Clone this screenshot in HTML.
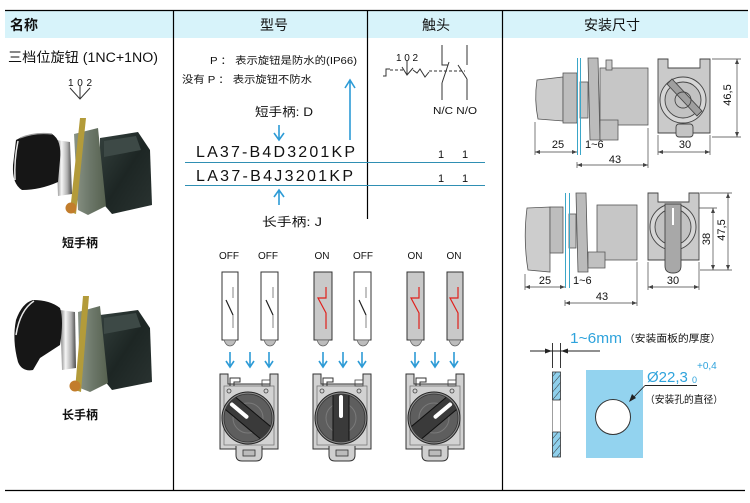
<!DOCTYPE html>
<html><head><meta charset="utf-8"><style>
html,body{margin:0;padding:0;background:#fff;}
svg{display:block;}
text{font-family:"Liberation Sans","Noto Sans CJK SC",sans-serif;fill:#111;}
</style></head><body>
<svg width="750" height="503" viewBox="0 0 750 503" xmlns="http://www.w3.org/2000/svg">
<defs>
 <linearGradient id="chrome" x1="0" y1="0" x2="1" y2="0">
  <stop offset="0" stop-color="#7a7a7a"/><stop offset="0.35" stop-color="#f6f6f6"/><stop offset="0.7" stop-color="#b0b0b0"/><stop offset="1" stop-color="#4a4a4a"/>
 </linearGradient>
 <linearGradient id="bodyg" x1="0" y1="0" x2="1" y2="1">
  <stop offset="0" stop-color="#34403d"/><stop offset="0.5" stop-color="#1d2624"/><stop offset="1" stop-color="#2a3331"/>
 </linearGradient>
 <linearGradient id="frameg" x1="0" y1="0" x2="1" y2="0">
  <stop offset="0" stop-color="#8a9486"/><stop offset="0.5" stop-color="#6c7769"/><stop offset="1" stop-color="#56614f"/>
 </linearGradient>
 <pattern id="hatch" width="5" height="5" patternUnits="userSpaceOnUse" patternTransform="rotate(40)">
  <rect width="5" height="5" fill="#8fd0ec"/><line x1="0" y1="0" x2="0" y2="5" stroke="#333" stroke-width="1"/>
 </pattern>
 <clipPath id="kc"><circle cx="0" cy="0" r="24"/></clipPath>
 <g id="sw">
  <path d="M0,0 H8 V10 H50 V0 H58 V75 H0 Z" fill="#d2d2d2" stroke="#333" stroke-width="1"/>
  <rect x="4" y="12" width="50" height="59" fill="none" stroke="#777" stroke-width="0.8"/>
  <path d="M10,12 V4 H20 V8 H14 V12" fill="none" stroke="#333" stroke-width="1"/>
  <rect x="42" y="6" width="8" height="6" fill="none" stroke="#444" stroke-width="0.8"/>
  <circle cx="46" cy="17" r="2" fill="none" stroke="#444" stroke-width="0.8"/>
  <circle cx="9" cy="17" r="2" fill="none" stroke="#444" stroke-width="0.8"/>
  <path d="M16,72 V81 Q16,87 22,87 H36 Q42,87 42,81 V72" fill="#cfcfcf" stroke="#333" stroke-width="1"/>
  <rect x="23" y="76" width="12" height="6" fill="#bbb" stroke="#333" stroke-width="0.8"/>
  <circle cx="28" cy="44" r="26" fill="#8c8c8c" stroke="#222" stroke-width="1"/>
  <circle cx="28" cy="44" r="24" fill="#5e5e5e" stroke="#333" stroke-width="0.8"/>
  <circle cx="28" cy="44" r="15" fill="none" stroke="#7a7a7a" stroke-width="1"/>
  <circle cx="28" cy="44" r="7" fill="none" stroke="#7a7a7a" stroke-width="1"/>
 </g>
</defs>

<!-- table frame -->
<rect x="5" y="11" width="743" height="27" fill="#d7f3fa"/>
<line x1="5" y1="10.5" x2="748" y2="10.5" stroke="#000" stroke-width="1.2"/>
<line x1="5" y1="490.5" x2="745" y2="490.5" stroke="#000" stroke-width="1.2"/>
<line x1="173.5" y1="10" x2="173.5" y2="491" stroke="#000" stroke-width="1.2"/>
<line x1="367.5" y1="10" x2="367.5" y2="219" stroke="#000" stroke-width="1.2"/>
<line x1="502.5" y1="10" x2="502.5" y2="490" stroke="#000" stroke-width="1.2"/>

<!-- headers -->
<text x="10" y="30" font-size="14" font-weight="bold">名称</text>
<text x="274" y="30" font-size="14" text-anchor="middle">型号</text>
<text x="436" y="30" font-size="14" text-anchor="middle">触头</text>
<text x="612" y="30" font-size="14" text-anchor="middle">安装尺寸</text>

<!-- left column -->
<text x="8" y="62" font-size="13.5" textLength="150" lengthAdjust="spacingAndGlyphs">三档位旋钮 (1NC+1NO)</text>
<text x="68" y="86" font-size="10" textLength="24" lengthAdjust="spacing">1 0 2</text>
<path d="M70,88 L80,99 L90,88 M80,86 V99" stroke="#333" stroke-width="1" fill="none"/>

<!-- photo 1 -->
<path d="M100,138 L138,132 L150,150 L152,205 L112,214 L100,200 Z" fill="url(#bodyg)"/>
<path d="M104,141 L136,136 L141,150 L104,157Z" fill="#3d4946"/>
<path d="M74,134 L98,128 L106,206 L88,215 L78,210 Z" fill="url(#frameg)"/>
<path d="M80,118 L86,118 L76,214 L70,212 Z" fill="#b39b3a"/>
<circle cx="71" cy="208" r="5.5" fill="#c27d2c"/>
<path d="M56,140 L70,142 L72,194 L58,196 Z" fill="url(#chrome)"/>
<path d="M16,140 Q30,132 52,134 Q62,140 60,160 L58,182 Q40,190 22,190 Q12,184 13,165 Z" fill="#161616"/>
<path d="M18,141 Q14,160 15,180" stroke="#e8e8e8" stroke-width="1.5" fill="none"/>
<path d="M20,138 Q35,132 52,134" stroke="#9a9a9a" stroke-width="1.2" fill="none"/>
<text x="80" y="247" font-size="12" font-weight="bold" text-anchor="middle">短手柄</text>

<!-- photo 2 -->
<path d="M100,315 L138,310 L150,328 L152,382 L112,390 L100,375 Z" fill="url(#bodyg)"/>
<path d="M104,318 L136,313 L141,327 L104,334Z" fill="#3d4946"/>
<path d="M78,312 L100,306 L108,383 L90,392 L80,388 Z" fill="url(#frameg)"/>
<path d="M83,296 L89,296 L81,392 L75,390 Z" fill="#b39b3a"/>
<circle cx="75" cy="386" r="5.5" fill="#c27d2c"/>
<path d="M60,310 L75,312 L76,368 L62,370 Z" fill="url(#chrome)"/>
<path d="M33,300 Q50,300 60,308 Q64,320 60,345 L40,358 L33,370 Q22,372 18,362 Q12,340 16,320 Q22,303 33,300 Z" fill="#161616"/>
<path d="M34,301 Q20,310 16,335" stroke="#e8e8e8" stroke-width="1.5" fill="none"/>
<text x="80" y="419" font-size="12" font-weight="bold" text-anchor="middle">长手柄</text>

<!-- middle column: model codes -->
<text x="210" y="64" font-size="10" textLength="147" lengthAdjust="spacingAndGlyphs">P ： 表示旋钮是防水的(IP66)</text>
<text x="182" y="83" font-size="10" textLength="130" lengthAdjust="spacingAndGlyphs">没有 P ： 表示旋钮不防水</text>
<text x="255" y="116" font-size="12" textLength="58" lengthAdjust="spacingAndGlyphs">短手柄: D</text>
<text x="196" y="157" font-size="16" textLength="159" lengthAdjust="spacing">LA37-B4D3201KP</text>
<text x="196" y="181" font-size="16" textLength="157" lengthAdjust="spacing">LA37-B4J3201KP</text>
<line x1="185" y1="162.5" x2="485" y2="162.5" stroke="#2f8fb3" stroke-width="1"/>
<line x1="185" y1="185.5" x2="485" y2="185.5" stroke="#2f8fb3" stroke-width="1"/>
<text x="262" y="226" font-size="12" textLength="60" lengthAdjust="spacingAndGlyphs">长手柄: J</text>
<g stroke="#2d9bd6" stroke-width="1.6" fill="none">
 <path d="M350,80 V140 M345,88 L350,80 L355,88"/>
 <path d="M279,125 V140 M274,133 L279,140 L284,133"/>
 <path d="M279,190 V205 M274,197 L279,190 L284,197"/>
</g>
<text x="438" y="158" font-size="11">1</text>
<text x="462" y="158" font-size="11">1</text>
<text x="438" y="182" font-size="11">1</text>
<text x="462" y="182" font-size="11">1</text>

<!-- contact diagram -->
<text x="396" y="61" font-size="10" textLength="22" lengthAdjust="spacing">1 0 2</text>
<g stroke="#333" stroke-width="1" fill="none">
 <path d="M383,76 H386 V69 H390"/>
 <path d="M390,70 H404" stroke-dasharray="3,2"/>
 <path d="M402,67 L407,75 L413,68 M407,60 V75"/>
 <path d="M413,70 L417,73 L420,69 L425,77 L429,72"/>
 <path d="M429,71 H465" stroke-dasharray="3,2"/>
 <path d="M442,45 V65 H448 M442,83 L449,62 M442,83 V100"/>
 <path d="M467,45 V65 M467,79 L458,65 M467,79 V100"/>
</g>
<text x="433" y="114" font-size="10" textLength="44" lengthAdjust="spacingAndGlyphs">N/C N/O</text>

<!-- state labels -->
<g font-size="10" text-anchor="middle">
 <text x="229" y="259">OFF</text><text x="268" y="259">OFF</text>
 <text x="322" y="259">ON</text><text x="363" y="259">OFF</text>
 <text x="415" y="259">ON</text><text x="454" y="259">ON</text>
</g>
<!-- contact boxes -->
<g stroke="#333" stroke-width="1">
 <rect x="222" y="272" width="16" height="68" fill="#fff"/>
 <rect x="261" y="272" width="17" height="68" fill="#fff"/>
 <rect x="314" y="272" width="18" height="68" fill="#c9c9c9"/>
 <rect x="354" y="272" width="17" height="68" fill="#fff"/>
 <rect x="407" y="272" width="17" height="68" fill="#c9c9c9"/>
 <rect x="447" y="272" width="16" height="68" fill="#c9c9c9"/>
</g>
<g fill="#bdbdbd" stroke="#666" stroke-width="0.8">
 <path d="M224,340 H236 Q234,346 230,346 Q226,346 224,340Z"/>
 <path d="M264,340 H276 Q274,346 270,346 Q266,346 264,340Z"/>
 <path d="M317,340 H329 Q327,346 323,346 Q319,346 317,340Z"/>
 <path d="M357,340 H369 Q367,346 363,346 Q359,346 357,340Z"/>
 <path d="M410,340 H422 Q420,346 416,346 Q412,346 410,340Z"/>
 <path d="M449,340 H461 Q459,346 455,346 Q451,346 449,340Z"/>
</g>
<g fill="none" stroke-width="1.2">
 <path d="M233,287 V298 M233,315 V328" stroke="#999"/><path d="M226,300 L233,315" stroke="#222"/>
 <path d="M273,287 V298 M273,315 V328" stroke="#999"/><path d="M266,300 L273,315" stroke="#222"/>
 <path d="M366,287 V298 M366,315 V328" stroke="#999"/><path d="M359,300 L366,315" stroke="#222"/>
 <path d="M326,287 V298 H318 L326,313 V329" stroke="#e0201c"/>
 <path d="M419,287 V298 H411 L419,313 V329" stroke="#e0201c"/>
 <path d="M458,287 V298 H450 L458,313 V329" stroke="#e0201c"/>
</g>
<!-- blue arrows -->
<g stroke="#2d9bd6" stroke-width="1.6" fill="none">
 <path d="M230,352 V366 M226,361 L230,367 L234,361"/>
 <path d="M250,352 V366 M246,361 L250,367 L254,361"/>
 <path d="M269,352 V366 M265,361 L269,367 L273,361"/>
 <path d="M323,352 V366 M319,361 L323,367 L327,361"/>
 <path d="M343,352 V366 M339,361 L343,367 L347,361"/>
 <path d="M362,352 V366 M358,361 L362,367 L366,361"/>
 <path d="M415,352 V366 M411,361 L415,367 L419,361"/>
 <path d="M435,352 V366 M431,361 L435,367 L439,361"/>
 <path d="M454,352 V366 M450,361 L454,367 L458,361"/>
</g>
<!-- switch bodies -->
<use href="#sw" x="220" y="374"/>
<use href="#sw" x="313" y="374"/>
<use href="#sw" x="406" y="374"/>
<g transform="translate(248,418)"><g clip-path="url(#kc)"><g transform="rotate(40)">
 <rect x="-27" y="-8" width="54" height="16" fill="#3a3a3a" stroke="#111" stroke-width="1"/>
 <line x1="-21" y1="0" x2="-2" y2="0" stroke="#fff" stroke-width="4" stroke-linecap="round"/></g></g></g>
<g transform="translate(341,418)"><g clip-path="url(#kc)"><g transform="rotate(90)">
 <rect x="-27" y="-8" width="54" height="16" fill="#3a3a3a" stroke="#111" stroke-width="1"/>
 <line x1="-21" y1="0" x2="-2" y2="0" stroke="#fff" stroke-width="4" stroke-linecap="round"/></g></g></g>
<g transform="translate(434,418)"><g clip-path="url(#kc)"><g transform="rotate(140)">
 <rect x="-27" y="-8" width="54" height="16" fill="#3a3a3a" stroke="#111" stroke-width="1"/>
 <line x1="-21" y1="0" x2="-2" y2="0" stroke="#fff" stroke-width="4" stroke-linecap="round"/></g></g></g>

<!-- right column: side view 1 -->
<g stroke="#555" stroke-width="0.8">
 <path d="M537,80 L563,77 V121 L538,119 Q534,100 537,80Z" fill="#cdcdcd"/>
 <rect x="563" y="73" width="14" height="50" fill="#bdbdbd"/>
 <rect x="580" y="82" width="8" height="36" fill="#c4c4c4"/>
 <path d="M588,58 H598 L600,140 H590 Z" fill="#bbb"/>
 <rect x="600" y="68" width="48" height="57" fill="#c6c6c6"/>
 <path d="M600,120 H618 V140 H600Z" fill="#c0c0c0"/>
 <rect x="606" y="60" width="6" height="10" fill="#ccc"/>
</g>
<line x1="577.5" y1="58" x2="577.5" y2="155" stroke="#3aa6c8" stroke-width="1"/>
<line x1="580.5" y1="58" x2="580.5" y2="155" stroke="#3aa6c8" stroke-width="1"/>
<g stroke="#444" stroke-width="0.7" fill="none">
 <path d="M535,122 V155 M535,152 H577 M577,162 V168 M577,165 H648 M648,128 V168"/>
 <path d="M658,135 V155 M710,135 V155 M658,152 H710"/>
 <path d="M712,59 H741 M712,137 H741 M737,59 V137"/>
</g>
<g fill="#444">
 <path d="M535,152 l5,-2 v4z M577,152 l-5,-2 v4z M577,165 l5,-2 v4z M648,165 l-5,-2 v4z M658,152 l5,-2 v4z M710,152 l-5,-2 v4z M737,59 l-2,5 h4z M737,137 l-2,-5 h4z"/>
</g>
<text x="558" y="148" font-size="11" text-anchor="middle">25</text>
<text x="585" y="148" font-size="11">1~6</text>
<text x="615" y="163" font-size="11" text-anchor="middle">43</text>
<text x="685" y="148" font-size="11" text-anchor="middle">30</text>
<text transform="translate(731,95) rotate(-90)" font-size="11" text-anchor="middle">46,5</text>
<!-- front view 1 -->
<g stroke="#444" stroke-width="0.9">
 <path d="M658,59 H668 V68 H700 V59 H710 V133 H658 Z" fill="#cacaca"/>
 <rect x="676" y="124" width="17" height="13" rx="3" fill="#c4c4c4"/>
 <circle cx="683" cy="100" r="23" fill="#d6d6d6"/>
 <circle cx="683" cy="100" r="18" fill="#c2c2c2"/>
 <path d="M667,84 L697,116 L702,111 L672,79Z" fill="#9f9f9f"/>
 <circle cx="683" cy="100" r="8" fill="none"/>
</g>

<!-- side view 2 -->
<g stroke="#555" stroke-width="0.8">
 <path d="M527,208 L550,207 V272 L528,270 Q523,240 527,208Z" fill="#cdcdcd"/>
 <rect x="550" y="207" width="13" height="46" fill="#bdbdbd"/>
 <rect x="569" y="214" width="7" height="34" fill="#c4c4c4"/>
 <path d="M576,193 H586 L588,272 H578 Z" fill="#bbb"/>
 <rect x="597" y="205" width="40" height="55" fill="#c6c6c6"/>
 <path d="M588,252 H605 V268 H588Z" fill="#c0c0c0"/>
</g>
<line x1="565.5" y1="193" x2="565.5" y2="288" stroke="#3aa6c8" stroke-width="1"/>
<line x1="569.5" y1="193" x2="569.5" y2="288" stroke="#3aa6c8" stroke-width="1"/>
<g stroke="#444" stroke-width="0.7" fill="none">
 <path d="M525,274 V290 M525,287 H565 M565,300 V306 M565,303 H637 M637,262 V306"/>
 <path d="M648,262 V290 M699,262 V290 M648,287 H699"/>
 <path d="M690,208 H717 M700,193 H732 M700,270 H732 M713,208 V270 M728,193 V270"/>
</g>
<g fill="#444">
 <path d="M525,287 l5,-2 v4z M565,287 l-5,-2 v4z M565,303 l5,-2 v4z M637,303 l-5,-2 v4z M648,287 l5,-2 v4z M699,287 l-5,-2 v4z M713,208 l-2,5 h4z M713,270 l-2,-5 h4z M728,193 l-2,5 h4z M728,270 l-2,-5 h4z"/>
</g>
<text x="545" y="284" font-size="11" text-anchor="middle">25</text>
<text x="573" y="284" font-size="11">1~6</text>
<text x="602" y="300" font-size="11" text-anchor="middle">43</text>
<text x="673" y="284" font-size="11" text-anchor="middle">30</text>
<text transform="translate(710,239) rotate(-90)" font-size="11" text-anchor="middle">38</text>
<text transform="translate(725,230) rotate(-90)" font-size="11" text-anchor="middle">47,5</text>
<!-- front view 2 -->
<g stroke="#444" stroke-width="0.9">
 <path d="M648,193 H658 V202 H689 V193 H699 V260 H648 Z" fill="#cacaca"/>
 <circle cx="673" cy="227" r="23" fill="#d6d6d6"/>
 <circle cx="673" cy="227" r="18" fill="#c2c2c2"/>
 <path d="M665,204 H681 V266 Q681,273 673,273 Q665,273 665,266Z" fill="#a8a8a8"/>
 <line x1="673" y1="208" x2="673" y2="225" stroke="#fff" stroke-width="2"/>
</g>

<!-- panel thickness / hole -->
<text x="570" y="343" font-size="15" style="fill:#2fa3dc" textLength="52" lengthAdjust="spacingAndGlyphs">1~6mm</text>
<text x="624" y="342" font-size="10" textLength="97" lengthAdjust="spacingAndGlyphs">（安装面板的厚度）</text>
<g stroke="#222" stroke-width="0.9" fill="none">
 <path d="M530,351 H600 M552.5,343 V368 M560.5,343 V368"/>
</g>
<path d="M552,351 l-7,-2.5 v5z M561,351 l7,-2.5 v5z" fill="#222"/>
<rect x="552.5" y="372" width="8" height="28" fill="url(#hatch)" stroke="#333" stroke-width="0.8"/>
<rect x="552.5" y="432" width="8" height="25" fill="url(#hatch)" stroke="#333" stroke-width="0.8"/>
<path d="M552.5,400 V432 M560.5,400 V432" stroke="#888" stroke-width="0.8"/>
<rect x="586" y="370" width="57" height="88" fill="#93d3ef"/>
<circle cx="613" cy="417" r="17.5" fill="#fff" stroke="#333" stroke-width="1"/>
<text x="647" y="382" font-size="15" style="fill:#2fa3dc">Ø22,3</text>
<text x="692" y="383" font-size="9" style="fill:#2fa3dc">0</text>
<text x="697" y="369" font-size="10" style="fill:#2fa3dc">+0,4</text>
<path d="M645,385.5 H697 M645,385.5 L632,399" stroke="#222" stroke-width="0.9" fill="none"/>
<path d="M629,402 l3,-8 l4,4z" fill="#222"/>
<text x="645" y="403" font-size="10" textLength="78" lengthAdjust="spacingAndGlyphs">（安装孔的直径）</text>
</svg>
</body></html>
